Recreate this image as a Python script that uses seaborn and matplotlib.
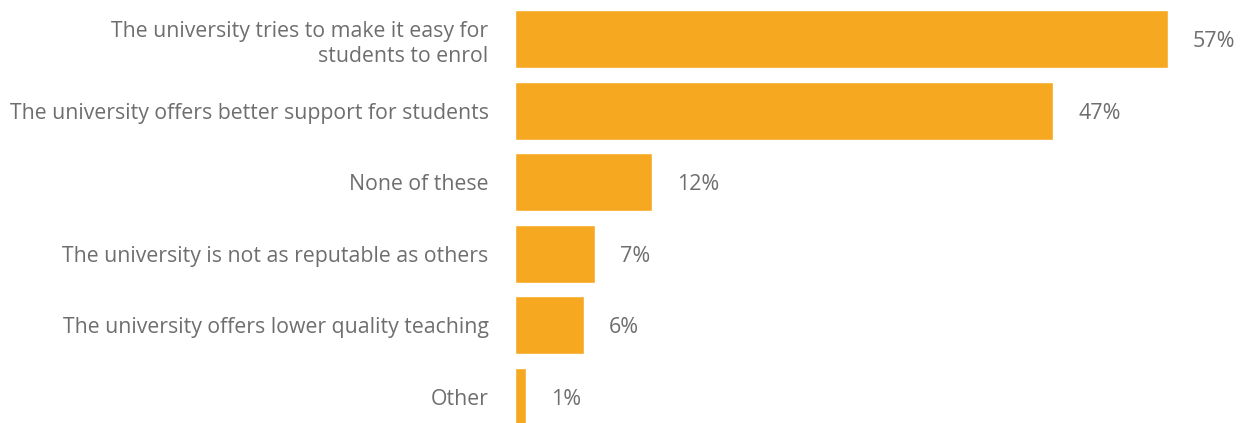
import matplotlib
matplotlib.use("Agg")
import matplotlib.pyplot as plt
import seaborn as sns
import pandas as pd

categories = [
    "The university tries to make it easy for\nstudents to enrol",
    "The university offers better support for students",
    "None of these",
    "The university is not as reputable as others",
    "The university offers lower quality teaching",
    "Other",
]
values = [57, 47, 12, 7, 6, 1]
value_labels = ["57%", "47%", "12%", "7%", "6%", "1%"]

df = pd.DataFrame({"reason": categories, "pct": values})

sns.set_theme(style="white")
plt.rcParams["font.family"] = ["Open Sans", "DejaVu Sans"]

text_color = "#6e6e6e"
bar_color = "#F6A820"

fig = plt.figure(figsize=(12.47, 4.23), dpi=100)
ax = fig.add_axes([515 / 1247, 0, 1 - 515 / 1247, 1])

sns.barplot(data=df, y="reason", x="pct", orient="h", color=bar_color,
            width=0.81, saturation=1, ax=ax)

ax.set_xlim(0, 63.9)
ax.set_ylim(5.363, -0.545)

for i, (v, lab) in enumerate(zip(values, value_labels)):
    ax.annotate(lab, xy=(v, i), xytext=(18, 0), textcoords="offset points",
                ha="left", va="center_baseline", fontsize=15.5, color=text_color)

ax.set_xlabel("")
ax.set_ylabel("")
ax.set_xticks([])
ax.tick_params(axis="y", length=0, pad=19, labelsize=15.3, labelcolor=text_color)
for lbl in ax.get_yticklabels():
    lbl.set_horizontalalignment("right")
    lbl.set_multialignment("right")
    lbl.set_linespacing(1.3)
for s in ax.spines.values():
    s.set_visible(False)

fig.savefig("out.png", dpi=100)
